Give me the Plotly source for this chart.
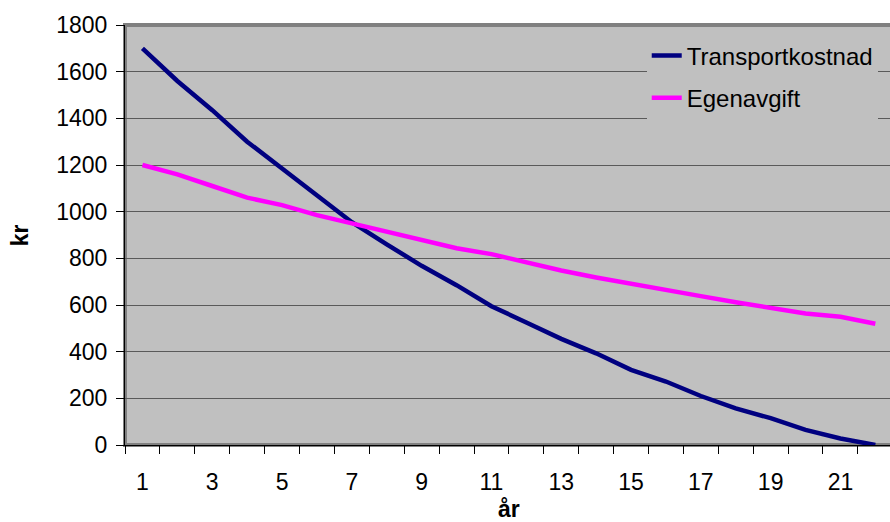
import plotly.graph_objects as go

# Yearly values (kr)
years = list(range(1, 23))
transportkostnad = [1700, 1560, 1435, 1300, 1185, 1070, 955, 860, 768, 685, 595,
                    525, 455, 393, 322, 272, 210, 157, 115, 65, 28, 0]
egenavgift = [1200, 1160, 1110, 1060, 1028, 985, 950, 914, 878, 843, 818,
              781, 748, 718, 690, 665, 638, 612, 588, 564, 550, 520]
x_ticks = [1, 3, 5, 7, 9, 11, 13, 15, 17, 19, 21]
y_ticks = list(range(0, 1801, 200))

FONT = "Arial, Liberation Sans, sans-serif"
PLOT_BG = "#C0C0C0"

fig = go.Figure()
fig.add_trace(go.Scatter(x=years, y=transportkostnad, mode="lines",
                         name="Transportkostnad", legendgroup="a",
                         line=dict(color="#000080", width=4.5)))
fig.add_trace(go.Scatter(x=years, y=egenavgift, mode="lines",
                         name="Egenavgift", legendgroup="b",
                         line=dict(color="#FF00FF", width=4.5)))

fig.update_layout(
    width=890, height=522,
    margin=dict(l=125, r=0, t=25, b=77),
    paper_bgcolor="white",
    plot_bgcolor=PLOT_BG,
    font=dict(family=FONT, size=23, color="black"),
    showlegend=True,
    legend=dict(
        x=0.682, y=0.98, xanchor="left", yanchor="top",
        bgcolor=PLOT_BG, borderwidth=0,
        font=dict(family=FONT, size=24, color="black"),
        tracegroupgap=8, traceorder="grouped",
    ),
    xaxis=dict(
        range=[0.5, 22.42],
        tickmode="array", tickvals=x_ticks, ticktext=[str(v) for v in x_ticks],
        ticks="outside", ticklen=8, tickcolor="rgba(0,0,0,0)",
        ticklabelstandoff=8,
        minor=dict(ticks="outside", tick0=0.5, dtick=1, ticklen=8,
                   tickcolor="black", tickwidth=1, showgrid=False),
        showgrid=False, zeroline=False,
        showline=True, linecolor="black", linewidth=1,
        tickfont=dict(family=FONT, size=23),
    ),
    yaxis=dict(
        range=[0, 1800],
        tickmode="array", tickvals=y_ticks,
        ticks="outside", ticklen=8, tickcolor="black", tickwidth=1,
        ticklabelstandoff=4,
        showgrid=True, gridcolor="#5A5A5A", gridwidth=1.3,
        zeroline=False,
        showline=True, linecolor="black", linewidth=1,
        tickfont=dict(family=FONT, size=23),
    ),
    shapes=[
        dict(type="rect", xref="paper", yref="paper", x0=0, x1=1.01, y0=0, y1=1,
             line=dict(color="#808080", width=4), fillcolor="rgba(0,0,0,0)",
             layer="below"),
    ],
    annotations=[
        dict(text="<b>kr</b>", xref="paper", yref="paper", x=-0.137, y=0.5,
             textangle=-90, showarrow=False, font=dict(family=FONT, size=23),
             xanchor="center", yanchor="middle"),
        dict(text="<b>år</b>", xref="paper", yref="paper", x=0.502, y=-0.188,
             showarrow=False, font=dict(family=FONT, size=23),
             xanchor="center", yanchor="bottom"),
    ],
)

fig.write_html("out.html")
